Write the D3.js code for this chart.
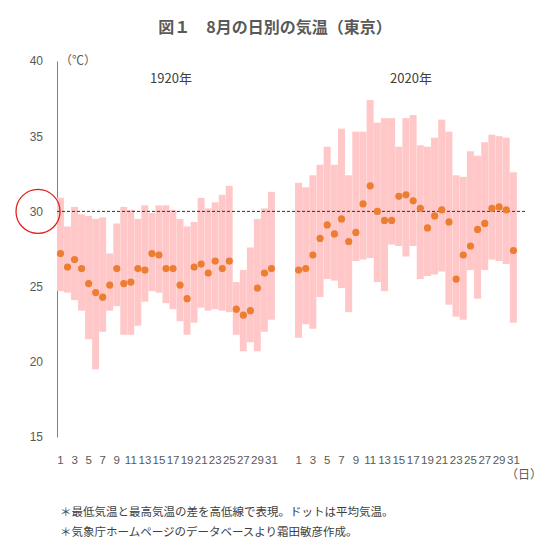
<!DOCTYPE html>
<html><head><meta charset="utf-8">
<script src="https://cdn.jsdelivr.net/npm/d3@7"></script>
<style>
body{margin:0;background:#fff;font-family:"Noto Sans CJK JP","Noto Sans",sans-serif;}
text{fill:#595959;}
</style></head><body>
<script>
var days = d3.range(1, 32);
var years = ["1920年", "2020年"];
var high1920 = [30.9,29.0,30.3,29.8,29.7,29.5,29.6,27.2,29.2,30.3,30.1,29.5,30.4,29.9,30.4,30.4,30.1,29.5,29.0,29.3,30.9,30.2,30.6,31.1,31.7,25.3,26.1,27.6,29.5,30.2,31.3];
var low1920  = [24.7,24.6,24.1,23.4,21.5,19.5,22.0,23.4,23.7,21.8,21.8,22.4,24.0,24.7,24.6,23.9,23.5,22.7,21.8,22.6,23.6,23.4,23.5,23.4,23.3,21.8,20.7,21.3,20.7,22.0,22.8];
var mean1920 = [27.2,26.3,26.8,26.2,25.2,24.6,24.3,25.1,26.2,25.2,25.3,26.2,26.1,27.2,27.1,26.2,26.2,25.1,24.2,26.3,26.5,25.9,26.7,26.2,26.7,23.5,23.1,23.4,24.9,25.9,26.2];
var high2020 = [31.9,31.6,32.4,33.1,34.3,33.1,35.5,32.4,35.3,35.3,37.4,35.9,36.2,36.2,34.3,36.2,36.4,34.4,34.3,34.9,36.1,35.3,32.4,32.3,34.0,33.7,34.6,35.1,35.0,34.9,32.6];
var low2020  = [21.6,22.5,22.2,24.3,25.5,25.4,24.9,23.3,26.7,26.8,26.9,25.3,24.7,27.8,27.7,27.0,27.7,25.5,25.7,25.8,26.0,23.8,23.0,22.8,26.1,24.2,26.1,26.8,26.7,26.5,22.6];
var mean2020 = [26.1,26.2,27.1,28.2,29.1,28.5,29.5,28.0,28.6,30.5,31.7,30.0,29.4,29.4,31.0,31.1,30.7,30.2,28.9,29.7,30.1,29.3,25.5,27.1,27.7,28.8,29.2,30.2,30.3,30.1,27.4];
var yTicks = [15, 20, 25, 30, 35, 40];
var refTemp = 30;

var W = 550, H = 556;
var svg = d3.select("body").append("svg").attr("width", W).attr("height", H);

var y = d3.scaleLinear().domain([15, 40]).range([437, 61]);
var xs = [d3.scaleBand().domain(days).range([57, 275]).padding(0),
          d3.scaleBand().domain(days).range([295, 517]).padding(0)];
var series = [[high1920, low1920, mean1920], [high2020, low2020, mean2020]];

svg.append("text").attr("x", 275).attr("y", 33).attr("text-anchor", "middle")
  .style("font-size", "16px").style("font-weight", "bold").text("図１　8月の日別の気温（東京）");

// y axis
var ya = svg.append("g").attr("transform", "translate(57,0)")
  .call(d3.axisLeft(y).tickValues(yTicks).tickSize(0).tickPadding(14));
ya.select(".domain").attr("stroke", "#808080");
ya.selectAll("text").style("font-size", "12px").style("fill", "#595959")
  .style("font-family", "Liberation Sans, sans-serif");
svg.append("text").attr("x", 60).attr("y", 65).style("font-size", "12px").text("（℃）");

xs.forEach(function(x, k) {
  var hi = series[k][0], lo = series[k][1], me = series[k][2];
  var g = svg.append("g");
  g.selectAll("rect").data(days).join("rect")
    .attr("x", d => x(d)).attr("width", x.bandwidth() * 0.98)
    .attr("y", d => y(hi[d - 1])).attr("height", d => y(lo[d - 1]) - y(hi[d - 1]))
    .attr("fill", "#ffc7c7");
  var xa = svg.append("g").attr("transform", "translate(0,452)")
    .call(d3.axisBottom(x).tickValues(days.filter(d => d % 2 == 1)).tickSize(0).tickPadding(4));
  xa.select(".domain").remove();
  xa.selectAll("text").style("font-size", "11.5px").style("fill", "#595959")
    .style("font-family", "Liberation Sans, sans-serif");
  svg.append("text").attr("x", (x.range()[0] + x.range()[1]) / 2 + 5).attr("y", 83)
    .attr("text-anchor", "middle").style("font-size", "13px").style("fill", "#404040").text(years[k]);
  k; me;
});

svg.append("line").attr("x1", 57).attr("x2", 525).attr("y1", y(refTemp)).attr("y2", y(refTemp))
  .attr("stroke", "#333").attr("stroke-dasharray", "3,2").attr("stroke-width", 1);

xs.forEach(function(x, k) {
  var me = series[k][2];
  svg.append("g").selectAll("circle").data(days).join("circle")
    .attr("cx", d => x(d) + x.bandwidth() / 2).attr("cy", d => y(me[d - 1]))
    .attr("r", 3.6).attr("fill", "#ed7d31");
});

svg.append("circle").attr("cx", 38).attr("cy", y(refTemp)).attr("r", 22)
  .attr("fill", "none").attr("stroke", "#e0201e").attr("stroke-width", 1.3);

svg.append("text").attr("x", 506).attr("y", 479).style("font-size", "12px").text("（日）");
svg.append("text").attr("x", 60).attr("y", 516).style("font-size", "11.5px").style("fill", "#404040")
  .text("＊最低気温と最高気温の差を高低線で表現。ドットは平均気温。");
svg.append("text").attr("x", 60).attr("y", 536).style("font-size", "11.5px").style("fill", "#404040")
  .text("＊気象庁ホームページのデータベースより霜田敏彦作成。");
</script>
</body></html>
